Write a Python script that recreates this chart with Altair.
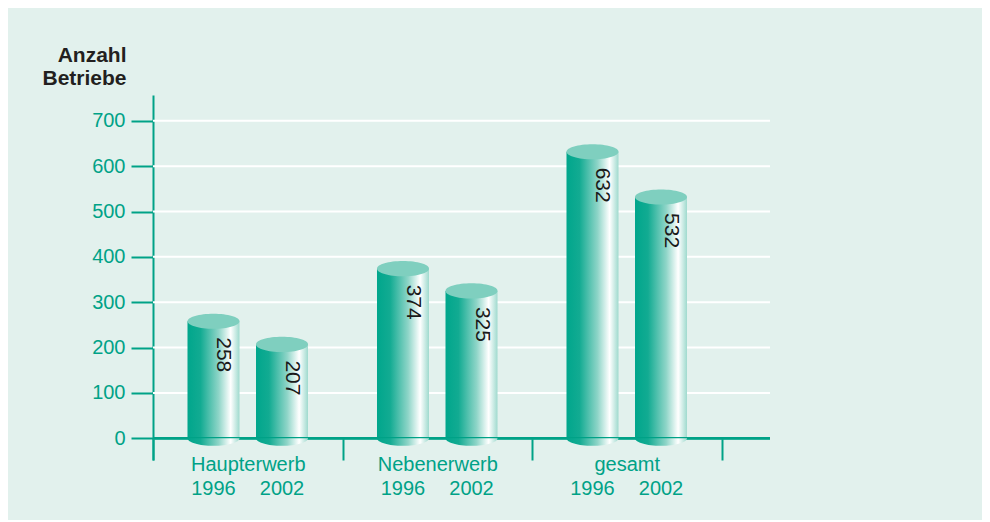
import altair as alt
import pandas as pd

# ---- data ----
categories = ["Haupterwerb", "Nebenerwerb", "gesamt"]
years = ["1996", "2002"]
values_1996 = [258, 374, 632]
values_2002 = [207, 325, 532]
y_ticks = [0, 100, 200, 300, 400, 500, 600, 700]
y_title = ["Anzahl", "Betriebe"]

rows = []
for c, a, b in zip(categories, values_1996, values_2002):
    rows.append({"cat": c, "year": years[0], "value": a})
    rows.append({"cat": c, "year": years[1], "value": b})
df = pd.DataFrame(rows)
grid_df = pd.DataFrame({"tick": y_ticks})

# ---- style ----
TEAL = "#00a287"
BG = "#e2f1ed"
FONT = "Liberation Sans"
TOP = "#7fcfbf"

grad = alt.Gradient(
    gradient="linear", x1=0, x2=1, y1=0, y2=0,
    stops=[
        alt.GradientStop(offset=0, color="#00a68c"),
        alt.GradientStop(offset=0.25, color="#12ab92"),
        alt.GradientStop(offset=0.6, color="#8fd5c8"),
        alt.GradientStop(offset=0.83, color="#ffffff"),
        alt.GradientStop(offset=1, color="#9fdace"),
    ],
)

top_path = "M-1,0A1,0.29,0,1,0,1,0A1,0.29,0,1,0,-1,0Z"
bottom_path = "M-1,0A1,0.29,0,0,0,1,0Z"

x_enc = alt.X(
    "cat:N", sort=categories,
    scale=alt.Scale(range=[0, 568.5], paddingInner=0, paddingOuter=0),
    axis=alt.Axis(
        title=None, domain=False, grid=False, tickBand="extent",
        tickSize=22, tickWidth=2, tickColor=TEAL, offset=-22,
        labelColor=TEAL, labelFont=FONT, labelFontSize=20, labelAngle=0,
        labelPadding=10, labelBaseline="alphabetic",
    ),
)
xo_enc = alt.XOffset("year:N", sort=years,
                     scale=alt.Scale(paddingInner=0.241, paddingOuter=0.5035))

y_scale = alt.Scale(domain=[-48, 757], nice=False, zero=False)
y_axis = alt.Axis(
    values=y_ticks, title=y_title, titleAngle=0, titleAlign="right",
    titleBaseline="alphabetic", titleX=-27, titleY=-34,
    titleFont=FONT, titleFontSize=21, titleFontWeight="bold",
    titleColor="#231f20", titleLineHeight=23,
    domainColor=TEAL, domainWidth=2, tickColor=TEAL, tickWidth=2,
    tickSize=22, labelColor=TEAL, labelFont=FONT, labelFontSize=20,
    labelPadding=6, grid=False,
)
y_enc = alt.Y("value:Q", scale=y_scale, axis=y_axis)

base = alt.Chart(df)

gridlines = alt.Chart(grid_df).mark_rule(color="white", strokeWidth=2).encode(
    y=alt.Y("tick:Q", scale=y_scale, axis=y_axis)
)

bars = base.mark_bar(color=grad).encode(
    x=x_enc, xOffset=xo_enc, y=y_enc, y2=alt.datum(0)
)

zero_rule = base.mark_rule(color=TEAL, strokeWidth=2).encode(y=alt.datum(0))

bottoms = base.mark_point(
    shape=bottom_path, size=2704, filled=True, color=grad, opacity=1, strokeWidth=0
).encode(x=x_enc, xOffset=xo_enc, y=alt.datum(0))

tops = base.mark_point(
    shape=top_path, size=2704, filled=True, color=TOP, opacity=1, strokeWidth=0
).encode(x=x_enc, xOffset=xo_enc, y=y_enc)

value_labels = base.mark_text(
    angle=90, align="left", baseline="alphabetic", dx=16, dy=-4,
    font=FONT, fontSize=21, color="#1a1a1a",
).encode(x=x_enc, xOffset=xo_enc, y=y_enc, text="value:Q")

year_labels = base.mark_text(
    align="center", baseline="alphabetic", dy=35,
    font=FONT, fontSize=20, color=TEAL,
).encode(x=x_enc, xOffset=xo_enc, y=alt.value(365), text="year:N")

chart = alt.layer(
    gridlines, bars, zero_rule, bottoms, tops, value_labels, year_labels
).properties(
    width=617, height=365,
    autosize=alt.AutoSizeParams(type="none"),
    padding={"left": 145, "top": 87, "right": 212, "bottom": 60},
    background=BG,
).configure_view(stroke=None)

chart.save("out.html", embed_options={"renderer": "svg", "actions": False})
